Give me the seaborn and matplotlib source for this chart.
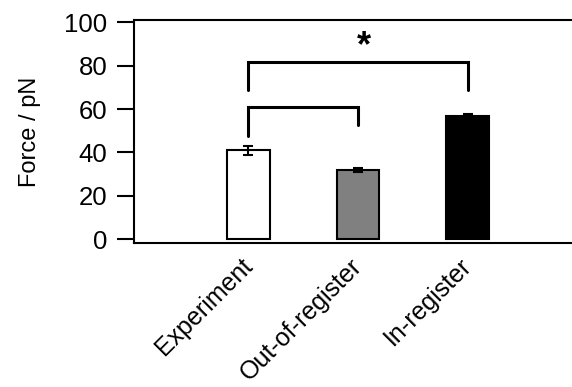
import pandas as pd
import seaborn as sns
import matplotlib.pyplot as plt

# data
groups = ['Experiment', 'Out-of-register', 'In-register']
force = [41, 32, 57]
force_err = [2, 1, 0.5]
bar_colors = ['white', '#808080', 'black']

# significance brackets: (left group, right group, top, left foot, right foot)
brackets = [
    (0, 1, 61, 47.5, 52.5),
    (0, 2, 81.5, 69, 69),
]
star_y = 88.7

df = pd.DataFrame({'group': groups, 'force': force})

sns.set_style('ticks')
plt.rcParams['font.family'] = ['Liberation Sans', 'DejaVu Sans']
plt.rcParams.update({'text.color': 'black', 'axes.labelcolor': 'black',
                     'xtick.color': 'black', 'ytick.color': 'black',
                     'axes.edgecolor': 'black'})

fig = plt.figure(figsize=(5.72, 3.87), dpi=100)
ax = fig.add_axes([0.234, 0.372, 0.766, 0.576])

sns.barplot(data=df, x='group', y='force', hue='group', palette=bar_colors,
            width=0.39, edgecolor='black', linewidth=1.5, legend=False, ax=ax)
ax.errorbar(range(len(groups)), force, yerr=force_err, fmt='none',
            ecolor='black', elinewidth=1.5, capsize=3.6, capthick=1.5)

for a, b, top, fa, fb in brackets:
    ax.plot([a, a, b, b], [fa, top, top, fb], color='black', lw=2.2,
            solid_joinstyle='miter', clip_on=False)
ax.text(1.05, star_y, '*', ha='center', va='center', fontsize=26,
        fontweight='bold')

ax.set_xlim(-1.046, 2.954)
ax.set_ylim(-1.8, 101)
ax.set_yticks([0, 20, 40, 60, 80, 100])
ax.set_ylabel('Force / pN', fontsize=17, labelpad=17)
ax.set_xlabel('')
ax.tick_params(axis='y', labelsize=18.5, length=12, width=1.5,
               direction='out', pad=7)
ax.tick_params(axis='x', labelsize=18, length=0, pad=14)
for lbl in ax.get_xticklabels():
    lbl.set_rotation(45)
    lbl.set_ha('right')
    lbl.set_va('center')
    lbl.set_rotation_mode('anchor')

for side in ['left', 'top', 'bottom']:
    ax.spines[side].set_visible(True)
    ax.spines[side].set_linewidth(1.5)
ax.spines['right'].set_visible(False)

fig.savefig('out.png', dpi=100)
